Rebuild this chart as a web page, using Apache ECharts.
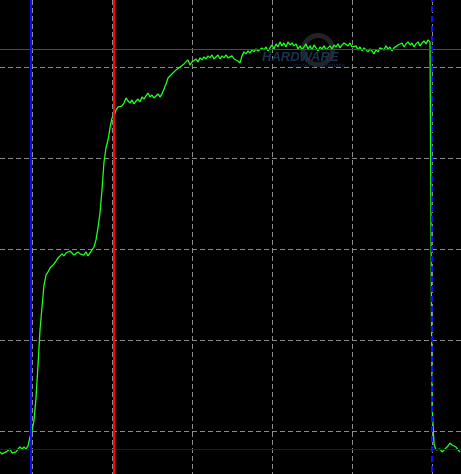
<!DOCTYPE html>
<html>
<head>
<meta charset="utf-8">
<script src="https://cdn.jsdelivr.net/npm/echarts@6/dist/echarts.min.js"></script>
<style>
html,body{margin:0;padding:0;background:#000;}
#chart{width:461px;height:474px;}
</style>
</head>
<body>
<div id="chart"></div>
<script>
// Time axis (s) and power (W): one sample every 0.025 s starting at 0.6 s
const t0 = 0.6;
const dt = 0.025;
const power = [
  38.5,37.4,37.9,38.5,39.0,40.1,37.9,37.4,38.5,40.1,
  41.2,40.1,41.2,40.1,41.8,46.7,50.0,56.0,68.1,86.3,
  105.5,118.1,130.2,135.7,137.4,139.6,140.7,141.8,143.4,145.1,
  145.6,147.3,146.2,147.8,147.3,148.9,147.8,146.7,147.3,148.4,
  147.3,147.8,146.7,148.4,146.2,146.7,149.5,151.1,155.0,161.6,
  169.8,182.4,197.8,205.5,209.9,216.5,222.0,223.1,226.4,228.0,
  227.5,228.6,230.2,233.0,231.3,230.2,231.9,229.7,231.3,232.4,
  230.8,233.5,232.4,234.1,235.7,233.5,234.6,233.0,234.1,235.2,
  233.5,235.2,237.9,240.7,244.0,243.4,246.2,246.7,248.4,247.8,
  250.0,249.5,251.7,252.2,253.9,251.1,252.8,252.2,254.4,252.8,
  255.0,253.9,255.5,254.4,256.1,255.0,256.6,254.4,255.5,256.6,
  254.4,256.1,255.0,256.6,255.0,255.5,256.1,254.4,255.0,253.3,
  252.2,256.1,258.3,257.2,258.8,257.7,259.4,258.3,259.9,258.8,
  258.3,260.5,259.4,261.0,258.8,260.5,262.1,259.9,262.7,261.0,
  263.8,261.6,263.2,261.0,263.8,262.1,263.2,261.6,262.7,259.9,
  261.6,259.4,261.0,262.7,259.9,261.6,259.4,262.1,260.5,258.8,
  261.0,259.9,261.6,259.4,260.5,261.6,259.9,262.1,261.0,262.7,
  260.5,262.1,263.2,263.8,261.6,263.2,261.0,260.5,261.6,259.4,
  261.0,258.8,260.5,259.4,258.3,259.9,258.8,257.2,259.4,258.3,
  260.5,261.0,259.4,261.6,259.9,261.0,258.8,260.5,259.9,262.1,
  261.6,263.2,261.0,262.7,263.8,262.1,263.2,261.0,262.7,263.8,
  261.6,263.2,264.3,262.7,264.9,263.8,64.3,42.9,39.6,39.0,
  40.1,38.5,39.6,40.7,41.8,43.4,42.3,41.8,41.2,39.6,
  38.5
];
// Cursor positions
const cursorTimesBlue = [0.9875, 6.0];
const cursorTimeRed = 2.025;
const levelRed = 259.6;
const levelBlue = 39.8;
// Axis ticks
const timeTicks = [0, 1, 2, 3, 4, 5, 6, 7];
const powerTicks = [0, 50, 100, 150, 200, 250, 300];

const traceData = power.map((v, i) => [t0 + i * dt, v]);

const chart = echarts.init(document.getElementById('chart'), null, {renderer: 'canvas'});
const gridLine = {show: true, lineStyle: {color: '#8a8a8a', width: 1, type: [5, 3]}};
chart.setOption({
  backgroundColor: '#000000',
  animation: false,
  grid: {left: -48, top: -24, width: 560, height: 546, show: false, containLabel: false, outerBoundsMode: 'none'},
  xAxis: {
    type: 'value', min: timeTicks[0], max: timeTicks[timeTicks.length - 1], interval: 1,
    axisLine: {show: false}, axisTick: {show: false}, axisLabel: {show: false},
    splitLine: gridLine
  },
  yAxis: {
    type: 'value', min: powerTicks[0], max: powerTicks[powerTicks.length - 1], interval: 50,
    axisLine: {show: false}, axisTick: {show: false}, axisLabel: {show: false},
    splitLine: gridLine
  },
  graphic: [
    {type: 'ring', shape: {cx: 318, cy: 50, r: 17, r0: 12}, z: 1, style: {fill: '#232323'}},
    {type: 'text', left: 262, top: 51, z: 1, style: {text: 'HARDWARE', fill: '#1a3350', font: 'italic bold 13px "Liberation Sans", Arial'}},
    {type: 'text', left: 287, top: 62, z: 1, style: {text: '...víc než jen počítače', fill: '#182d45', font: '6px "Liberation Sans", Arial'}}
  ],
  series: [
    {
      type: 'line', data: traceData, showSymbol: false, z: 3,
      lineStyle: {color: '#1eff1e', width: 1.3}, silent: true
    },
    {
      type: 'line', data: [], z: 5, silent: true,
      markLine: {
        symbol: 'none', silent: true, animation: false,
        label: {show: false},
        data: [
          {yAxis: levelRed, lineStyle: {color: '#ff0000', width: 1, type: 'solid'}},
          {yAxis: levelBlue, lineStyle: {color: '#0000ff', width: 1, type: 'solid'}},
          {xAxis: cursorTimesBlue[0], lineStyle: {color: '#0a0aff', width: 2, type: 'solid'}},
          {xAxis: cursorTimeRed, lineStyle: {color: '#ff0000', width: 2, type: 'solid'}},
          {xAxis: cursorTimesBlue[1], lineStyle: {color: '#1010ff', width: 2, type: [6, 4]}}
        ]
      }
    }
  ]
});
</script>
</body>
</html>
